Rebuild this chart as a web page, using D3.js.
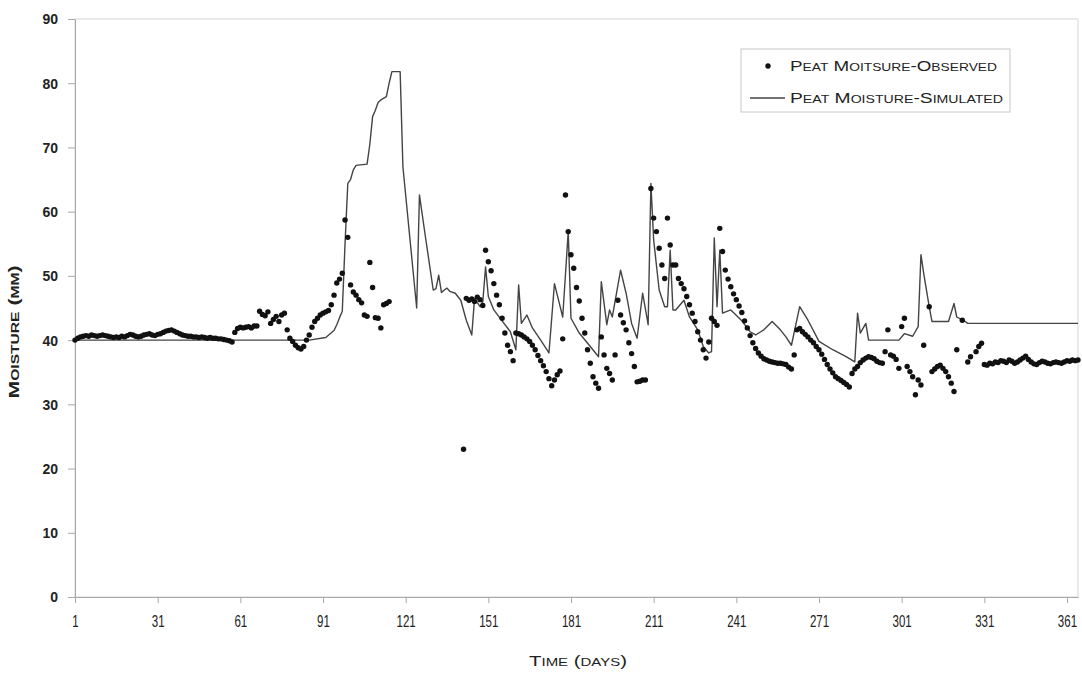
<!DOCTYPE html>
<html>
<head>
<meta charset="utf-8">
<script src="https://cdn.jsdelivr.net/npm/d3@7"></script>
<style>
body { margin: 0; background: #fff; }
text { font-family: "Liberation Sans Narrow", "Arial Narrow", "Liberation Sans", sans-serif; fill: #222; }
.sc { font-variant: small-caps; }
</style>
</head>
<body>
<div id="chart"></div>
<script>
// axis ticks
let xTicks = [1, 31, 61, 91, 121, 151, 181, 211, 241, 271, 301, 331, 361]
let yTicks = [0, 10, 20, 30, 40, 50, 60, 70, 80, 90]

// observed peat moisture, one value per day (day 1 .. 365), null = no reading
let observed = [
    40.0, 40.3, 40.5, 40.6, 40.7, 40.6, 40.8, 40.7, 40.6, 40.7,   // 1-10
    40.8, 40.7, 40.6, 40.5, 40.4, 40.5, 40.4, 40.6, 40.5, 40.7,   // 11-20
    40.9, 40.8, 40.6, 40.5, 40.6, 40.8, 40.9, 41.0, 40.8, 40.7,   // 21-30
    40.9, 41.0, 41.2, 41.4, 41.5, 41.6, 41.4, 41.2, 41.0, 40.8,   // 31-40
    40.7, 40.6, 40.6, 40.5, 40.5, 40.4, 40.5, 40.4, 40.3, 40.4,   // 41-50
    40.3, 40.3, 40.2, 40.2, 40.1, 40.0, 39.9, 39.7, 41.2, 41.8,   // 51-60
    42.0, 41.9, 42.0, 42.1, 41.9, 42.2, 42.2, 44.5, 44.0, 43.8,   // 61-70
    44.4, 42.6, 43.2, 43.7, 42.9, 43.9, 44.2, 41.6, 40.3, 39.8,   // 71-80
    39.2, 38.8, 38.6, 39.0, 40.0, 40.8, 42.0, 42.9, 43.4, 43.9,   // 81-90
    44.2, 44.4, 44.6, 45.5, 47.0, 48.9, 49.5, 50.4, 58.7, 56.0,   // 91-100
    48.6, 47.5, 47.0, 46.3, 45.8, 43.9, 43.7, 52.1, 48.2, 43.5,   // 101-110
    43.4, 41.9, 45.5, 45.7, 46.0, null, null, null, null, null,   // 111-120
    null, null, null, null, null, null, null, null, null, null,   // 121-130
    null, null, null, null, null, null, null, null, null, null,   // 131-140
    null, 23.0, 46.5, 46.2, 46.4, 46.0, 46.7, 46.3, 45.4, 54.0,   // 141-150
    52.2, 50.8, 48.8, 47.0, 45.5, 43.4, 41.1, 39.2, 38.2, 36.8,   // 151-160
    41.1, 41.0, 40.8, 40.5, 40.2, 39.8, 39.2, 38.5, 37.6, 36.8,   // 161-170
    36.0, 35.1, 34.0, 32.9, 33.8, 34.6, 35.2, 40.2, 62.6, 56.9,   // 171-180
    53.3, 51.2, 48.2, 46.1, 43.4, 41.1, 38.5, 36.4, 34.3, 33.3,   // 181-190
    32.5, 40.5, 37.7, 35.6, 34.8, 33.8, 37.7, 46.2, 43.9, 42.7,   // 191-200
    41.6, 39.6, 37.9, 35.9, 33.5, 33.6, 33.8, 33.8, null, 63.6,   // 201-210
    59.0, 56.9, 54.3, 51.7, 49.6, 59.0, 54.8, 51.7, 51.7, 49.6,   // 211-220
    48.8, 48.0, 46.8, 45.5, 44.2, 42.9, 41.3, 40.0, 38.5, 37.2,   // 221-230
    39.7, 43.4, 42.9, 42.3, 57.4, 53.8, 50.9, 49.5, 48.3, 47.2,   // 231-240
    46.3, 45.3, 44.3, 43.0, 41.9, 40.7, 39.6, 38.7, 38.0, 37.5,   // 241-250
    37.1, 36.9, 36.7, 36.6, 36.5, 36.4, 36.4, 36.3, 36.2, 35.8,   // 251-260
    35.5, 37.7, 41.6, 41.8, 41.3, 40.9, 40.5, 40.0, 39.6, 39.0,   // 261-270
    38.5, 37.8, 37.0, 36.2, 35.5, 34.9, 34.3, 34.0, 33.7, 33.4,   // 271-280
    33.1, 32.7, 34.8, 35.5, 35.9, 36.5, 36.9, 37.2, 37.4, 37.3,   // 281-290
    37.1, 36.7, 36.5, 36.4, 38.2, 41.6, 37.7, 37.5, 37.0, 35.6,   // 291-300
    42.1, 43.4, 35.9, 35.1, 34.3, 31.5, 33.8, 33.0, 39.2, null,   // 301-310
    45.2, 35.1, 35.5, 35.9, 36.1, 35.6, 35.1, 34.3, 33.3, 32.0,   // 311-320
    38.5, null, 43.1, null, 36.6, 37.4, null, 38.2, 39.0, 39.5,   // 321-330
    36.2, 36.1, 36.4, 36.3, 36.6, 36.5, 36.8, 36.7, 36.5, 36.9,   // 331-340
    36.7, 36.4, 36.6, 36.9, 37.2, 37.5, 37.0, 36.6, 36.3, 36.2,   // 341-350
    36.5, 36.7, 36.6, 36.4, 36.3, 36.5, 36.6, 36.5, 36.4, 36.6,   // 351-360
    36.8, 36.7, 36.9, 36.8, 36.9                                  // 361-365
]

// simulated peat moisture, [day, mm] at the turning points of the line
let simulated = [
    [1, 40.0], [86, 40.0], [92, 40.4], [95, 41.5], [96, 42.4], [97, 43.5], [98, 44.5],
    [99, 55.0], [100, 64.4], [101, 65.0], [102, 66.5], [103, 67.2], [107, 67.4],
    [108, 70.5], [109, 74.8], [110, 75.8], [111, 77.0], [112, 77.4], [114, 77.9],
    [115, 80.0], [116, 81.8], [119, 81.8], [120, 67.0], [125, 45.0], [126, 62.6],
    [128, 56.6], [131, 47.8], [132, 48.0], [133, 50.1], [134, 47.4], [135, 47.8],
    [136, 48.1], [137, 47.6], [139, 47.3], [141, 46.2], [143, 43.1], [145, 40.8],
    [146, 46.5], [148, 45.2], [149, 46.0], [150, 51.4], [151, 46.8], [153, 44.7],
    [156, 43.0], [159, 41.3], [161, 38.5], [162, 48.6], [163, 42.6], [165, 43.9],
    [167, 41.9], [170, 40.0], [173, 38.0], [175, 48.8], [178, 43.6], [180, 56.9],
    [181, 43.4], [184, 41.1], [188, 39.0], [191, 37.4], [192, 49.1], [194, 42.4],
    [195, 44.7], [196, 43.6], [199, 50.9], [201, 47.3], [203, 42.6], [205, 40.3],
    [207, 47.3], [209, 42.4], [210, 64.4], [211, 55.6], [213, 47.8], [215, 45.2],
    [216, 45.2], [217, 54.0], [218, 44.7], [219, 44.7], [222, 46.2], [224, 43.6],
    [227, 41.6], [229, 39.0], [231, 38.0], [232, 38.2], [233, 55.9], [234, 45.2],
    [235, 54.0], [236, 44.2], [239, 44.7], [243, 43.0], [246, 41.3], [248, 40.8],
    [251, 41.6], [254, 42.9], [257, 41.6], [259, 40.5], [261, 39.2], [264, 45.2],
    [267, 43.1], [271, 39.8], [276, 38.5], [281, 37.4], [284, 36.6], [285, 44.2],
    [286, 41.1], [288, 42.6], [289, 40.0], [300, 40.0], [302, 41.0], [305, 40.6],
    [307, 42.1], [308, 53.3], [309, 50.4], [311, 45.2], [312, 42.9], [318, 42.9],
    [320, 45.7], [321, 43.6], [324, 42.9], [325, 42.6], [365, 42.6]
]

let legendLabels = ["Peat Moitsure-Observed", "Peat Moisture-Simulated"]

// setup canvas
let width = 1082
let height = 673
let plot = { left: 75, right: 1078, top: 19, bottom: 597 }

let svg = d3.select("#chart").append("svg")
    .attr("width", width)
    .attr("height", height)

let x = d3.scaleLinear().domain([1, 365]).range([plot.left, plot.right])
let y = d3.scaleLinear().domain([0, 90]).range([plot.bottom, plot.top])

// plot area frame (light)
svg.append("rect")
    .attr("x", plot.left)
    .attr("y", plot.top)
    .attr("width", plot.right - plot.left)
    .attr("height", plot.bottom - plot.top)
    .attr("fill", "none")
    .attr("stroke", "#d6d6d6")

// axes
let yAxis = svg.append("g")
    .attr("transform", "translate(" + plot.left + ",0)")
    .call(d3.axisLeft(y).tickValues(yTicks).tickSize(7).tickSizeOuter(0).tickPadding(10))

let xAxis = svg.append("g")
    .attr("transform", "translate(0," + plot.bottom + ")")
    .call(d3.axisBottom(x).tickValues(xTicks).tickSize(6).tickSizeOuter(0).tickPadding(13))

for (let ax of [xAxis, yAxis]) {
    ax.select(".domain").attr("stroke", "#a8a8a8")
    ax.selectAll(".tick line").attr("stroke", "#a8a8a8")
    ax.selectAll("text")
        .attr("font-family", "Liberation Sans Narrow, Arial Narrow, Liberation Sans, sans-serif")
        .attr("fill", "#2a2a2a")
}
yAxis.selectAll("text")
    .attr("font-size", 14)
    .attr("font-weight", "bold")
    .attr("dy", "0.35em")
// x labels are tall and narrow in the original
xAxis.selectAll("text")
    .attr("font-size", 16)
    .attr("transform", "scale(0.72,1)")

// simulated line
let line = d3.line()
    .x(d => x(d[0]))
    .y(d => y(d[1]))

svg.append("path")
    .datum(simulated)
    .attr("d", line)
    .attr("fill", "none")
    .attr("stroke", "#444")
    .attr("stroke-width", 1.4)
    .attr("stroke-linejoin", "round")

// observed dots
let obsPoints = observed
    .map((v, i) => ({ day: i + 1, value: v }))
    .filter(d => d.value !== null)

svg.append("g")
    .selectAll("circle")
    .data(obsPoints)
    .enter()
    .append("circle")
        .attr("cx", d => x(d.day))
        .attr("cy", d => y(d.value))
        .attr("r", 2.7)
        .attr("fill", "#111")

// axis titles
svg.append("text")
    .attr("class", "sc")
    .attr("transform", "translate(19,332) rotate(-90)")
    .attr("text-anchor", "middle")
    .attr("font-size", 15)
    .attr("font-weight", "bold")
    .attr("textLength", 133)
    .attr("lengthAdjust", "spacingAndGlyphs")
    .text("Moisture (mm)")

svg.append("text")
    .attr("class", "sc")
    .attr("x", 578)
    .attr("y", 666)
    .attr("text-anchor", "middle")
    .attr("font-size", 15)
    .attr("textLength", 98)
    .attr("lengthAdjust", "spacingAndGlyphs")
    .text("Time (days)")

// legend
let legend = svg.append("g")

legend.append("rect")
    .attr("x", 741)
    .attr("y", 49)
    .attr("width", 269)
    .attr("height", 63)
    .attr("fill", "#fff")
    .attr("stroke", "#c8c8c8")

legend.append("circle")
    .attr("cx", 768)
    .attr("cy", 66)
    .attr("r", 2.7)
    .attr("fill", "#111")

legend.append("line")
    .attr("x1", 750)
    .attr("x2", 785)
    .attr("y1", 98)
    .attr("y2", 98)
    .attr("stroke", "#444")
    .attr("stroke-width", 1.4)

legend.selectAll("text.leg")
    .data(legendLabels)
    .enter()
    .append("text")
        .attr("class", "sc leg")
        .attr("x", 790)
        .attr("y", (d, i) => 71 + i * 32)
        .attr("font-size", 15)
        .attr("textLength", (d, i) => i === 0 ? 207 : 213)
        .attr("lengthAdjust", "spacingAndGlyphs")
        .text(d => d)
</script>
</body>
</html>
